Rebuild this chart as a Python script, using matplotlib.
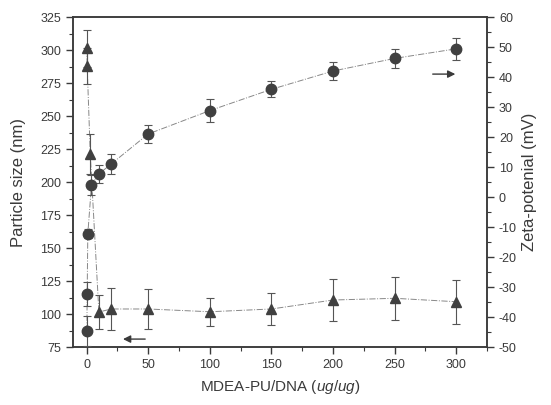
import matplotlib
matplotlib.use('Agg')
import matplotlib.pyplot as plt
from matplotlib.ticker import MultipleLocator

plt.rcParams['font.family'] = ['Liberation Sans', 'DejaVu Sans']
plt.rcParams['mathtext.fontset'] = 'custom'
plt.rcParams['mathtext.rm'] = 'Liberation Sans'
plt.rcParams['mathtext.it'] = 'Liberation Sans:italic'
plt.rcParams['axes.unicode_minus'] = False

# particle size (left axis, triangles)
size_x = [0.25, 0.5, 3, 10, 20, 50, 100, 150, 200, 250, 300]
size_nm = [301.5, 287.9, 221.2, 101.5, 103.8, 103.8, 101.7, 103.8, 110.6, 111.9, 109.3]
size_err = [14, 14, 15, 12.7, 16, 15, 10.6, 12, 15.7, 16.4, 16.7]

# zeta potential (right axis, circles)
zeta_x = [0.25, 0.5, 1, 4, 10, 20, 50, 100, 150, 200, 250, 300]
zeta_mv = [-44.7, -32.3, -12.3, 4, 7.7, 11, 21, 28.8, 35.9, 42, 46.2, 49.4]
zeta_err = [5, 4, 1.5, 3.3, 2.9, 3.2, 2.9, 3.8, 2.7, 3, 3.2, 3.6]

ink = '#3a3a3a'
mark = '#404040'

fig = plt.figure(figsize=(5.51, 4.05), dpi=100)
ax = fig.add_axes([0.1325, 0.1432, 0.7515, 0.8148])
ax2 = ax.twinx()

ax.errorbar(size_x, size_nm, yerr=size_err, fmt='^', color=mark, ms=7,
            ecolor='#555555', elinewidth=0.8, capsize=3, capthick=0.8, zorder=3)
ax.plot(size_x, size_nm, color='#888888', lw=0.7, ls='-.', zorder=2)

ax2.errorbar(zeta_x, zeta_mv, yerr=zeta_err, fmt='o', color=mark, ms=7.5,
             ecolor='#555555', elinewidth=0.8, capsize=3, capthick=0.8, zorder=3)
ax2.plot(zeta_x, zeta_mv, color='#888888', lw=0.7, ls='-.', zorder=2)

ax.set_xlim(-11, 325)
ax.set_ylim(75, 325)
ax2.set_ylim(-50, 60)

ax.xaxis.set_major_locator(MultipleLocator(50))
ax.xaxis.set_minor_locator(MultipleLocator(25))
ax.yaxis.set_major_locator(MultipleLocator(25))
ax.yaxis.set_minor_locator(MultipleLocator(12.5))
ax2.yaxis.set_major_locator(MultipleLocator(10))
ax2.yaxis.set_minor_locator(MultipleLocator(5))

for a in (ax, ax2):
    for s in a.spines.values():
        s.set_color(ink)
        s.set_linewidth(1.1)
    a.tick_params(which='both', direction='out', colors=ink, labelsize=9)
    a.tick_params(which='major', length=5, width=1)
    a.tick_params(which='minor', length=3, width=0.8)

ax.set_xlabel('MDEA-PU/DNA ($\\mathit{ug/ug}$)', fontsize=11, color=ink, labelpad=5)
ax.set_ylabel('Particle size (nm)', fontsize=12, color=ink, labelpad=10)
ax2.set_ylabel('Zeta-potenial (mV)', fontsize=12, color=ink, labelpad=4)

# direction arrows
ax.annotate('', xy=(0.114, 0.024), xytext=(0.181, 0.024), xycoords='axes fraction',
            arrowprops=dict(arrowstyle='-|>', color=ink, lw=1, mutation_scale=11))
ax.annotate('', xy=(0.930, 0.827), xytext=(0.862, 0.827), xycoords='axes fraction',
            arrowprops=dict(arrowstyle='-|>', color=ink, lw=1, mutation_scale=11))

plt.savefig('out.png', dpi=100)
